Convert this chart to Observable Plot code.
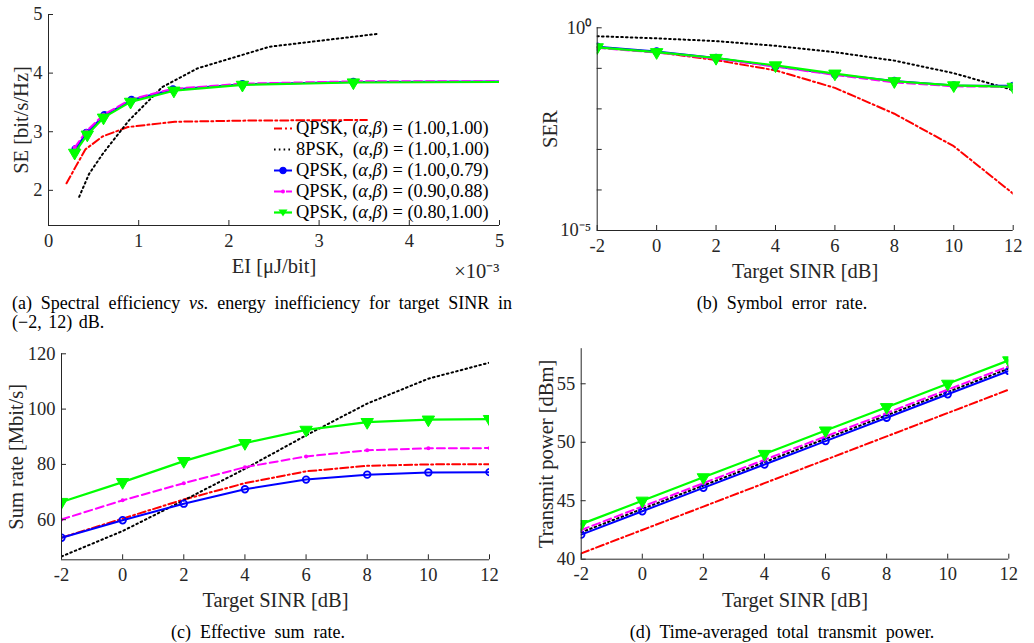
<!DOCTYPE html>
<html><head><meta charset="utf-8">
<script src="https://cdn.jsdelivr.net/npm/d3@7"></script>
<script src="https://cdn.jsdelivr.net/npm/@observablehq/plot@0.6"></script>
<style>
body{margin:0;background:#fff;}
#fig{position:relative;width:1034px;height:643px;overflow:hidden;font-family:"Liberation Serif","Times New Roman",serif;color:#262626;background:#fff;}
.panel{position:absolute;}
.cap{position:absolute;font-family:"Liberation Serif","Times New Roman",serif;font-size:18px;line-height:20px;color:#000;white-space:nowrap;word-spacing:4.5px;text-align:center;}
.legend{position:absolute;left:273px;top:118px;font-family:"Liberation Serif","Times New Roman",serif;font-size:18.4px;line-height:21px;color:#000;}
.legend .row{display:flex;align-items:center;height:21px;white-space:pre;}
.legend svg{display:block;margin-right:1px;}
</style></head><body><div id="fig"></div>
<script>
// ---------- data ----------
const sinrDb = [-2, 0, 2, 4, 6, 8, 10, 12];

// (a) spectral efficiency vs energy inefficiency (EI in units of 1e-3 uJ/bit)
const eiQpsk11   = [0.20, 0.30, 0.41, 0.60, 0.88, 1.40, 2.20, 3.53];
const seQpsk11   = [2.12, 2.40, 2.70, 2.92, 3.08, 3.17, 3.19, 3.20];
const ei8psk     = [0.34, 0.45, 0.60, 0.89, 1.26, 1.65, 2.45, 3.65];
const se8psk     = [1.89, 2.28, 2.62, 3.19, 3.76, 4.08, 4.45, 4.67];
const eiQpsk1079 = [0.30, 0.42, 0.62, 0.92, 1.38, 2.15, 3.38, 5.40];
const seQpsk1079 = [2.70, 2.98, 3.28, 3.54, 3.72, 3.81, 3.85, 3.86];
const eiQpsk0988 = [0.29, 0.42, 0.61, 0.91, 1.37, 2.15, 3.38, 5.40];
const seQpsk0988 = [2.73, 3.01, 3.29, 3.55, 3.73, 3.82, 3.86, 3.86];
const eiQpsk0810 = [0.29, 0.43, 0.61, 0.91, 1.39, 2.15, 3.38, 5.40];
const seQpsk0810 = [2.64, 2.95, 3.24, 3.51, 3.70, 3.80, 3.84, 3.85];

// (b) symbol error rate
const serQpsk11   = [0.33, 0.25, 0.16, 0.089, 0.033, 0.0076, 0.0012, 0.000081];
const ser8psk     = [0.62, 0.55, 0.47, 0.36, 0.25, 0.155, 0.076, 0.029];
const serQpsk1079 = [0.34, 0.26, 0.18, 0.112, 0.071, 0.049, 0.038, 0.037];
const serQpsk0988 = [0.32, 0.245, 0.174, 0.110, 0.069, 0.045, 0.036, 0.035];
const serQpsk0810 = [0.33, 0.25, 0.18, 0.118, 0.074, 0.048, 0.038, 0.035];

// (c) effective sum rate [Mbit/s]
const rateQpsk11   = [53.5, 60.4, 67.3, 73.2, 77.5, 79.5, 80.0, 80.1];
const rate8psk     = [46.7, 55.9, 67.0, 78.4, 90.5, 102.0, 111.0, 116.8];
const rateQpsk1079 = [53.5, 59.8, 65.8, 71.0, 74.5, 76.3, 77.1, 77.2];
const rateQpsk0988 = [60.1, 67.0, 73.2, 79.0, 82.9, 85.1, 85.8, 85.9];
const rateQpsk0810 = [66.4, 73.6, 81.2, 87.7, 92.5, 95.3, 96.2, 96.4];

// (d) transmit power [dBm]
const powQpsk11   = [40.5, 42.5, 44.5, 46.5, 48.5, 50.5, 52.5, 54.5];
const pow8psk     = [42.3, 44.3, 46.3, 48.3, 50.3, 52.3, 54.3, 56.3];
const powQpsk1079 = [42.1, 44.1, 46.1, 48.1, 50.1, 52.1, 54.1, 56.1];
const powQpsk0988 = [42.5, 44.5, 46.5, 48.5, 50.5, 52.5, 54.5, 56.5];
const powQpsk0810 = [43.0, 45.0, 47.0, 49.0, 51.0, 53.0, 55.0, 57.0];

// tick values
const ticksA_x = [0, 1, 2, 3, 4, 5];
const ticksA_y = [2, 3, 4, 5];
const ticksB_y = [1, 1e-1, 1e-2, 1e-3, 1e-4, 1e-5];
const ticksC_y = [60, 80, 100, 120];
const ticksD_y = [40, 45, 50, 55];

const seriesKeys = ["q11", "p8", "q1079", "q0988", "q0810"];
const seriesLabels = {
  q11: "QPSK, (<i>α</i>,<i>β</i>) = (1.00,1.00)",
  p8: "8PSK,  (<i>α</i>,<i>β</i>) = (1.00,1.00)",
  q1079: "QPSK, (<i>α</i>,<i>β</i>) = (1.00,0.79)",
  q0988: "QPSK, (<i>α</i>,<i>β</i>) = (0.90,0.88)",
  q0810: "QPSK, (<i>α</i>,<i>β</i>) = (0.80,1.00)"
};

// ---------- styles ----------
const AX = "#262626";
const FONT = '"Liberation Serif","Times New Roman",serif';
const TICK_FS = 18.5, LABEL_FS = 20.5;
const sty = {
  q11:   {stroke: "#ff0000", strokeWidth: 2, strokeDasharray: "8,3,2,3"},
  p8:    {stroke: "#000000", strokeWidth: 2, strokeDasharray: "1.6,3.2"},
  q1079: {stroke: "#0000ff", strokeWidth: 2},
  q0988: {stroke: "#ff00ff", strokeWidth: 2, strokeDasharray: "8,4"},
  q0810: {stroke: "#00ff00", strokeWidth: 2.2}
};

function rows(xs, ys) { return xs.map((x, i) => ({x, y: ys[i]})); }

function seriesMarks(sets, filledCircle) {
  const marks = [];
  for (const k of seriesKeys) {
    const d = sets[k];
    marks.push(Plot.line(d, {x: "x", y: "y", ...sty[k], clip: true}));
    if (k === "q1079") marks.push(Plot.dot(d, {x: "x", y: "y", r: 3.3, fill: filledCircle ? "#0000ff" : "none", stroke: "#0000ff", strokeWidth: 1.8, clip: true}));
    if (k === "q0988") marks.push(Plot.dot(d, {x: "x", y: "y", r: 2, fill: "#ff00ff", stroke: "none", clip: true}));
    if (k === "q0810") marks.push(Plot.dot(d, {x: "x", y: "y", symbol: "triangle", r: 4.6, rotate: 180, fill: "#00ff00", stroke: "#00ff00", strokeWidth: 1, clip: true}));
  }
  return marks;
}

function makePanel({sets, xDomain, xTicks, yDomain, yTicks, yType, yFormat, margins, xLabel, yLabel, yLabelDx, filledCircle, extra = []}) {
  return Plot.plot({
    width: 517, height: 290,
    marginLeft: margins[0], marginRight: margins[1], marginTop: margins[2], marginBottom: margins[3],
    style: {fontFamily: FONT, fontSize: TICK_FS + "px", color: AX, background: "none", overflow: "visible"},
    x: {domain: xDomain},
    y: {domain: yDomain, type: yType || "linear"},
    marks: [
      ...seriesMarks(sets, filledCircle),
      Plot.ruleX([xDomain[0]], {stroke: AX, strokeWidth: 1}),
      Plot.ruleY([yDomain[0]], {stroke: AX, strokeWidth: 1}),
      Plot.axisX({ticks: xTicks, tickSize: -5, tickPadding: 13, tickFormat: d => String(d), label: null, stroke: AX, fontSize: TICK_FS, fontFamily: FONT}),
      Plot.axisY({ticks: yTicks, tickSize: -5, tickPadding: 11, tickFormat: yFormat || (d => String(d)), label: null, stroke: AX, fontSize: TICK_FS, fontFamily: FONT}),
      Plot.text([xLabel], {text: d => d, frameAnchor: "bottom", dy: 41, textAnchor: "middle", lineAnchor: "middle", fill: AX, fontSize: LABEL_FS, fontFamily: FONT}),
      Plot.text([yLabel], {text: d => d, frameAnchor: "left", dx: yLabelDx, rotate: -90, textAnchor: "middle", lineAnchor: "middle", fill: AX, fontSize: LABEL_FS, fontFamily: FONT}),
      ...extra
    ]
  });
}

const fig = document.getElementById("fig");
function place(svg, left, top) {
  const w = document.createElement("div");
  w.className = "panel"; w.style.left = left + "px"; w.style.top = top + "px";
  w.appendChild(svg); fig.appendChild(w);
}

// (a)
place(makePanel({
  sets: {
    q11: rows(eiQpsk11, seQpsk11), p8: rows(ei8psk, se8psk), q1079: rows(eiQpsk1079, seQpsk1079),
    q0988: rows(eiQpsk0988, seQpsk0988), q0810: rows(eiQpsk0810, seQpsk0810)
  },
  xDomain: [0, 5], xTicks: ticksA_x, yDomain: [1.4, 5], yTicks: ticksA_y,
  margins: [48, 18, 14, 65], xLabel: "EI [μJ/bit]", yLabel: "SE [bit/s/Hz]", yLabelDx: -27, filledCircle: true,
  extra: [Plot.text(["×10⁻³"], {text: d => d, frameAnchor: "bottom-right", dy: 46, textAnchor: "end", lineAnchor: "middle", fill: AX, fontSize: LABEL_FS, fontFamily: FONT})]
}), 0, 0);

// (b)
place(makePanel({
  sets: {
    q11: rows(sinrDb, serQpsk11), p8: rows(sinrDb, ser8psk), q1079: rows(sinrDb, serQpsk1079),
    q0988: rows(sinrDb, serQpsk0988), q0810: rows(sinrDb, serQpsk0810)
  },
  xDomain: [-2, 12], xTicks: sinrDb, yDomain: [1e-5, 1], yTicks: ticksB_y, yType: "log",
  yFormat: d => d === 1 ? "10⁰" : (d === 1e-5 ? "10⁻⁵" : ""),
  margins: [79.7, 21.3, 27.3, 60], xLabel: "Target SINR [dB]", yLabel: "SER", yLabelDx: -47, filledCircle: false
}), 517, 0);

// (c)
place(makePanel({
  sets: {
    q11: rows(sinrDb, rateQpsk11), p8: rows(sinrDb, rate8psk), q1079: rows(sinrDb, rateQpsk1079),
    q0988: rows(sinrDb, rateQpsk0988), q0810: rows(sinrDb, rateQpsk0810)
  },
  xDomain: [-2, 12], xTicks: sinrDb, yDomain: [45.5, 120], yTicks: ticksC_y,
  margins: [61, 28, 23.3, 60.7], xLabel: "Target SINR [dB]", yLabel: "Sum rate [Mbit/s]", yLabelDx: -45, filledCircle: false
}), 0, 330);

// (d)
place(makePanel({
  sets: {
    q11: rows(sinrDb, powQpsk11), p8: rows(sinrDb, pow8psk), q1079: rows(sinrDb, powQpsk1079),
    q0988: rows(sinrDb, powQpsk0988), q0810: rows(sinrDb, powQpsk0810)
  },
  xDomain: [-2, 12], xTicks: sinrDb, yDomain: [40, 58], yTicks: ticksD_y,
  margins: [63.7, 25.7, 18.2, 61.3], xLabel: "Target SINR [dB]", yLabel: "Transmit power [dBm]", yLabelDx: -35, filledCircle: false
}), 517, 330);

// legend for (a)
const leg = document.createElement("div");
leg.className = "legend";
for (const k of seriesKeys) {
  const s = sty[k];
  let marker = "";
  if (k === "q1079") marker = `<circle cx="10" cy="10.5" r="3.3" fill="#0000ff" stroke="#0000ff"/>`;
  if (k === "q0988") marker = `<circle cx="10" cy="10.5" r="2" fill="#ff00ff"/>`;
  if (k === "q0810") marker = `<path d="M5.5,7.5 L14.5,7.5 L10,14.5 Z" fill="#00ff00"/>`;
  const dash = s.strokeDasharray ? `stroke-dasharray="${s.strokeDasharray}"` : "";
  leg.insertAdjacentHTML("beforeend",
    `<div class="row"><svg width="22" height="21"><line x1="1" x2="19" y1="10.5" y2="10.5" stroke="${s.stroke}" stroke-width="${s.strokeWidth}" ${dash}/>${marker}</svg><span>${seriesLabels[k]}</span></div>`);
}
fig.appendChild(leg);

// captions
function caption(html, left, top, width, align) {
  const c = document.createElement("div");
  c.className = "cap";
  c.style.left = left + "px"; c.style.top = top + "px"; c.style.width = width + "px";
  c.style.textAlign = align || "center";
  c.innerHTML = html;
  fig.appendChild(c);
  return c;
}
const capA1 = caption("(a) Spectral efficiency <i>vs.</i> energy inefficiency for target SINR in", 12, 293, 500, "justify");
capA1.style.textAlignLast = "justify"; capA1.style.wordSpacing = "0px";
caption("(−2, 12) dB.", 12, 312, 200, "left").style.wordSpacing = "2px";
caption("(b) Symbol error rate.", 532, 293, 500);
caption("(c) Effective sum rate.", 8, 622, 500);
caption("(d) Time-averaged total transmit power.", 532, 622, 500);
</script>
</body></html>
